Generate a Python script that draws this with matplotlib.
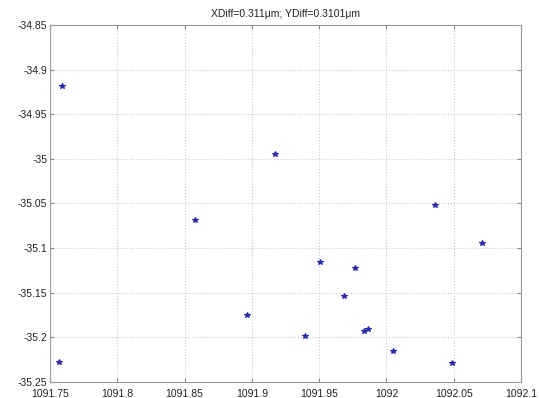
import matplotlib
matplotlib.use("Agg")
import matplotlib.pyplot as plt

x_vals = [1091.759, 1091.917, 1091.858, 1091.8966, 1091.757, 1092.036, 1092.071,
          1091.9507, 1091.977, 1091.9688, 1091.9395, 1091.9835, 1091.9865,
          1092.0048, 1092.0488]
y_vals = [-34.918, -34.994, -35.069, -35.175, -35.2275, -35.0515, -35.0948,
          -35.1153, -35.122, -35.154, -35.1987, -35.1923, -35.1905,
          -35.215, -35.229]
x_ticks = [1091.75, 1091.8, 1091.85, 1091.9, 1091.95, 1092, 1092.05, 1092.1]
x_labels = ["1091.75", "1091.8", "1091.85", "1091.9", "1091.95", "1092", "1092.05", "1092.1"]
y_ticks = [-34.85, -34.9, -34.95, -35, -35.05, -35.1, -35.15, -35.2, -35.25]
y_labels = ["-34.85", "-34.9", "-34.95", "-35", "-35.05", "-35.1", "-35.15", "-35.2", "-35.25"]
title = "XDiff=0.311\u03bcm; YDiff=0.3101\u03bcm"

plt.rcParams['font.family'] = ['Liberation Sans', 'DejaVu Sans']
fig = plt.figure(figsize=(5.39, 3.98), dpi=100)
ax = fig.add_axes([50/539, 1-382/398, (521-50)/539, (382-25)/398])
ax.plot(x_vals, y_vals, linestyle='none', marker='*', markersize=4,
        color='#2a2aa8', markeredgewidth=0.8)
ax.set_xlim(1091.75, 1092.1)
ax.set_ylim(-35.25, -34.85)
ax.set_xticks(x_ticks)
ax.set_xticklabels(x_labels)
ax.set_yticks(y_ticks)
ax.set_yticklabels(y_labels)
ax.tick_params(labelsize=7.5, direction='in', length=3, color='#888888',
               labelcolor='#222222', pad=2, top=True, right=True)
ax.tick_params(axis='x', pad=5)
ax.grid(True, linestyle=':', color='#c8c8c8', linewidth=0.8)
for s in ax.spines.values():
    s.set_color('#999999')
    s.set_linewidth(0.8)
ax.set_title(title, fontsize=7.5, color='#222222', pad=6)
fig.savefig("out.png", dpi=100)
